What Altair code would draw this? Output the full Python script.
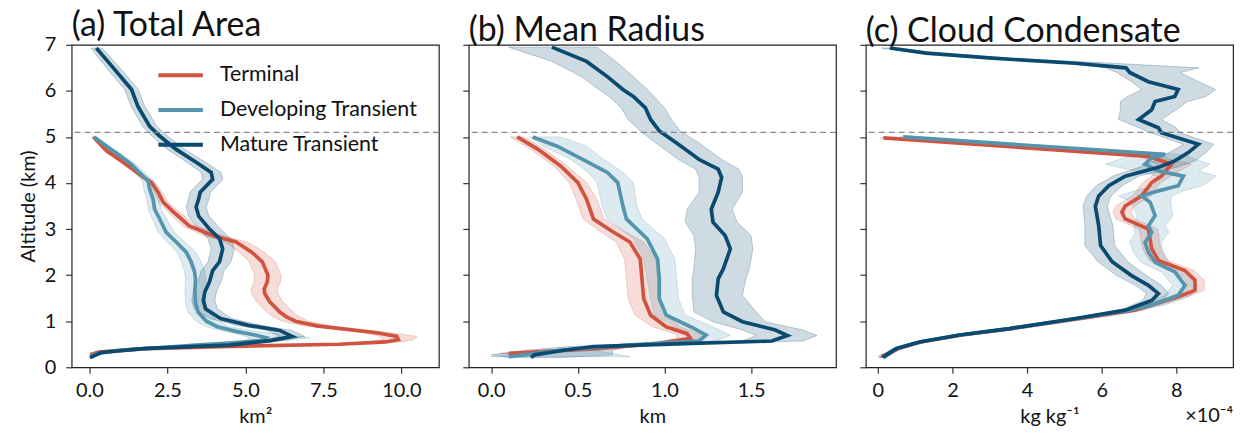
import altair as alt
import pandas as pd

FONT = "Lato"
SERIES = ["Terminal", "Developing Transient", "Mature Transient"]
COLORS = ["#d0533f", "#5494ad", "#0b4a6f"]
THRESHOLD = [5.1]

# ---------------- Panel (a) Total Area (km^2) ----------------
T_A_ALT = [0.27, 0.33, 0.40, 0.45, 0.50, 0.55, 0.60, 0.67, 0.75, 0.82, 0.90, 1.00, 1.10, 1.20, 1.42, 1.60, 1.70, 1.85, 2.00, 2.29, 2.50, 2.72, 2.86, 3.07, 3.37, 3.58, 3.80, 4.00, 4.19, 4.45, 4.70, 5.00]
T_A_MEAN = [0.02, 0.3, 1.6, 4.2, 8.0, 9.5, 9.9, 9.85, 9.2, 8.3, 7.3, 6.6, 6.3, 6.1, 5.78, 5.62, 5.6, 5.7, 5.72, 5.54, 5.2, 4.7, 3.95, 3.2, 2.7, 2.37, 2.2, 2.0, 1.61, 1.08, 0.55, 0.13]
T_A_LO = [0.0, 0.2, 1.3, 3.8, 7.5, 9.0, 9.4, 9.35, 8.75, 7.85, 6.85, 6.18, 5.88, 5.68, 5.36, 5.2, 5.18, 5.28, 5.3, 5.12, 4.8, 4.35, 3.65, 2.98, 2.52, 2.22, 2.07, 1.88, 1.51, 0.99, 0.48, 0.08]
T_A_HI = [0.07, 0.4, 1.9, 4.6, 8.5, 10.0, 10.4, 10.5, 9.65, 8.75, 7.75, 7.02, 6.72, 6.52, 6.2, 6.04, 6.02, 6.12, 6.14, 5.96, 5.6, 5.05, 4.25, 3.42, 2.88, 2.52, 2.33, 2.12, 1.71, 1.17, 0.62, 0.18]

D_A_ALT = [0.23, 0.30, 0.36, 0.42, 0.48, 0.53, 0.58, 0.64, 0.70, 0.78, 0.88, 1.00, 1.20, 1.40, 1.64, 1.92, 2.07, 2.29, 2.50, 2.72, 2.93, 3.22, 3.43, 3.65, 3.87, 4.05, 4.15, 4.40, 4.59, 4.80, 5.00]
D_A_MEAN = [0.03, 0.25, 0.9, 2.2, 3.4, 4.6, 5.5, 5.65, 5.3, 4.7, 4.1, 3.75, 3.48, 3.4, 3.38, 3.4, 3.37, 3.26, 3.1, 2.78, 2.46, 2.25, 2.09, 2.04, 1.93, 1.88, 1.72, 1.35, 0.98, 0.55, 0.15]
D_A_LO = [0.0, 0.15, 0.7, 1.9, 3.0, 4.1, 5.0, 5.15, 4.85, 4.3, 3.75, 3.42, 3.15, 3.08, 3.06, 3.08, 3.05, 2.95, 2.8, 2.5, 2.2, 2.02, 1.88, 1.84, 1.74, 1.7, 1.55, 1.2, 0.86, 0.46, 0.1]
D_A_HI = [0.1, 0.4, 1.2, 2.6, 3.9, 5.2, 6.3, 7.05, 6.4, 5.3, 4.5, 4.1, 3.82, 3.73, 3.7, 3.72, 3.7, 3.58, 3.4, 3.06, 2.72, 2.48, 2.3, 2.24, 2.12, 2.06, 1.89, 1.5, 1.1, 0.64, 0.2]

M_A_ALT = [0.21, 0.32, 0.41, 0.48, 0.58, 0.67, 0.80, 0.91, 1.06, 1.27, 1.45, 1.64, 1.86, 2.10, 2.29, 2.57, 2.79, 3.00, 3.28, 3.48, 3.65, 3.80, 4.08, 4.23, 4.45, 4.73, 5.02, 5.23, 5.67, 6.03, 6.39, 6.75, 6.93]
M_A_MEAN = [0.02, 0.38, 1.8, 4.5, 5.8, 6.5, 6.1, 5.1, 4.2, 3.72, 3.65, 3.7, 3.85, 3.95, 4.17, 4.27, 4.17, 3.85, 3.5, 3.42, 3.5, 3.55, 3.95, 3.9, 3.42, 2.78, 2.25, 1.93, 1.55, 1.35, 0.9, 0.45, 0.22]
M_A_LO = [0.0, 0.25, 1.5, 4.1, 5.4, 6.1, 5.7, 4.7, 3.85, 3.35, 3.28, 3.33, 3.48, 3.58, 3.8, 3.9, 3.8, 3.5, 3.17, 3.1, 3.17, 3.22, 3.62, 3.58, 3.12, 2.5, 2.0, 1.7, 1.33, 1.13, 0.68, 0.25, 0.05]
M_A_HI = [0.1, 0.55, 2.1, 4.9, 6.2, 6.9, 6.5, 5.5, 4.55, 4.1, 4.02, 4.07, 4.22, 4.32, 4.54, 4.64, 4.54, 4.2, 3.83, 3.74, 3.83, 3.88, 4.28, 4.22, 3.72, 3.06, 2.5, 2.16, 1.77, 1.57, 1.12, 0.65, 0.4]

# ---------------- Panel (b) Mean Radius (km) ----------------
T_B_ALT = [0.30, 0.40, 0.52, 0.63, 0.73, 0.88, 1.13, 1.49, 1.92, 2.35, 2.72, 2.97, 3.22, 3.65, 4.01, 4.37, 4.73, 5.00]
T_B_MEAN = [0.1, 0.59, 0.97, 1.15, 1.13, 1.01, 0.92, 0.88, 0.87, 0.86, 0.8, 0.69, 0.59, 0.55, 0.5, 0.4, 0.27, 0.15]
T_B_LO = [0.05, 0.52, 0.9, 1.08, 1.06, 0.93, 0.83, 0.79, 0.78, 0.77, 0.72, 0.62, 0.53, 0.49, 0.45, 0.36, 0.23, 0.11]
T_B_HI = [0.15, 0.66, 1.04, 1.22, 1.2, 1.09, 1.01, 0.97, 0.96, 0.95, 0.88, 0.76, 0.65, 0.61, 0.55, 0.44, 0.31, 0.19]

D_B_ALT = [0.23, 0.37, 0.48, 0.57, 0.70, 0.88, 1.13, 1.49, 1.92, 2.35, 2.79, 3.22, 3.50, 4.01, 4.23, 4.51, 4.80, 5.00]
D_B_MEAN = [0.1, 0.4, 0.78, 1.2, 1.24, 1.15, 1.01, 0.97, 0.97, 0.96, 0.9, 0.78, 0.76, 0.73, 0.67, 0.53, 0.38, 0.24]
D_B_LO = [0.0, 0.3, 0.7, 1.1, 1.15, 1.06, 0.94, 0.92, 0.9, 0.88, 0.82, 0.67, 0.64, 0.61, 0.56, 0.46, 0.3, 0.22]
D_B_HI = [0.8, 0.6, 0.9, 1.3, 1.38, 1.28, 1.12, 1.08, 1.07, 1.06, 1.0, 0.87, 0.84, 0.82, 0.76, 0.65, 0.55, 0.4]

M_B_ALT = [0.21, 0.27, 0.37, 0.45, 0.52, 0.57, 0.69, 0.81, 0.99, 1.20, 1.56, 1.92, 2.14, 2.57, 2.86, 3.15, 3.43, 3.80, 4.12, 4.30, 4.51, 4.87, 5.13, 5.38, 5.63, 5.88, 6.03, 6.31, 6.64, 6.95]
M_B_MEAN = [0.23, 0.25, 0.42, 0.59, 1.16, 1.62, 1.71, 1.64, 1.45, 1.34, 1.30, 1.31, 1.34, 1.38, 1.35, 1.28, 1.27, 1.31, 1.33, 1.31, 1.2, 1.07, 0.97, 0.92, 0.89, 0.82, 0.76, 0.67, 0.55, 0.35]
M_B_LO = [0.1, 0.0, 0.2, 0.45, 1.0, 1.45, 1.53, 1.45, 1.28, 1.17, 1.16, 1.16, 1.17, 1.18, 1.17, 1.12, 1.13, 1.2, 1.2, 1.18, 1.08, 0.95, 0.86, 0.79, 0.75, 0.68, 0.62, 0.52, 0.35, 0.1]
M_B_HI = [0.4, 0.7, 0.7, 0.8, 1.3, 1.8, 1.88, 1.8, 1.58, 1.53, 1.45, 1.47, 1.49, 1.51, 1.5, 1.42, 1.39, 1.45, 1.45, 1.43, 1.33, 1.2, 1.09, 1.04, 1.0, 0.94, 0.9, 0.82, 0.72, 0.61]

# ---------------- Panel (c) Cloud Condensate (x1e-4 kg/kg) ----------------
T_C_ALT = [0.24, 0.30, 0.41, 0.55, 0.70, 0.84, 1.06, 1.24, 1.35, 1.53, 1.67, 1.89, 2.10, 2.32, 2.57, 3.00, 3.22, 3.37, 3.50, 3.72, 4.01, 4.15, 4.41, 4.58, 4.98]
T_C_MEAN = [0.1, 0.3, 0.55, 1.15, 2.25, 3.6, 5.45, 6.9, 7.34, 8.05, 8.5, 8.5, 8.23, 7.52, 7.34, 7.25, 6.63, 6.54, 6.63, 7.07, 7.34, 7.6, 7.87, 7.25, 0.15]
T_C_LO = [0.0, 0.2, 0.45, 1.05, 2.15, 3.5, 5.3, 6.7, 7.1, 7.8, 8.25, 8.25, 7.98, 7.27, 7.1, 7.0, 6.38, 6.3, 6.38, 6.82, 7.1, 7.35, 7.5, 7.0, 0.05]
T_C_HI = [0.2, 0.4, 0.65, 1.25, 2.35, 3.7, 5.6, 7.1, 7.58, 8.3, 8.75, 8.75, 8.48, 7.77, 7.58, 7.5, 6.88, 6.78, 6.88, 7.32, 7.58, 7.85, 8.4, 7.5, 0.25]

D_C_ALT = [0.22, 0.30, 0.41, 0.55, 0.70, 0.84, 1.06, 1.24, 1.35, 1.56, 1.78, 2.07, 2.28, 2.50, 2.71, 2.93, 3.07, 3.29, 3.58, 3.72, 3.83, 3.94, 4.15, 4.26, 4.41, 4.55, 4.62, 5.00]
D_C_MEAN = [0.15, 0.3, 0.52, 1.12, 2.2, 3.55, 5.35, 6.75, 7.34, 8.05, 8.23, 7.96, 7.43, 7.25, 7.16, 7.34, 7.25, 7.43, 7.3, 7.07, 7.52, 8.05, 8.19, 7.52, 7.16, 7.34, 7.7, 0.68]
D_C_LO = [0.05, 0.2, 0.42, 1.02, 2.1, 3.45, 5.2, 6.55, 7.0, 7.7, 7.9, 7.6, 7.05, 6.85, 6.75, 6.9, 6.85, 6.95, 6.8, 6.45, 6.9, 7.4, 7.5, 6.9, 6.1, 6.6, 7.3, 0.6]
D_C_HI = [0.25, 0.4, 0.62, 1.22, 2.3, 3.65, 5.5, 6.95, 7.7, 8.4, 8.55, 8.3, 7.8, 7.65, 7.6, 7.8, 7.7, 7.9, 7.85, 7.87, 8.2, 8.7, 9.07, 8.6, 8.9, 8.4, 8.1, 0.76]

M_C_ALT = [0.21, 0.27, 0.41, 0.55, 0.70, 0.84, 1.06, 1.24, 1.45, 1.60, 1.78, 1.99, 2.29, 2.64, 3.07, 3.50, 3.72, 3.94, 4.15, 4.34, 4.48, 4.66, 4.84, 5.09, 5.20, 5.38, 5.59, 5.77, 5.88, 6.03, 6.20, 6.40, 6.50, 6.60, 6.71, 6.82, 6.93]
M_C_MEAN = [0.14, 0.23, 0.5, 1.12, 2.19, 3.52, 5.3, 6.63, 7.34, 7.52, 7.25, 6.8, 6.28, 5.97, 5.92, 5.83, 5.92, 6.19, 6.63, 7.52, 7.96, 8.32, 8.59, 7.6, 7.52, 6.99, 7.34, 7.43, 7.96, 8.05, 7.25, 6.75, 6.65, 5.3, 3.07, 1.3, 0.32]
M_C_LO = [0.04, 0.13, 0.4, 1.02, 2.09, 3.42, 5.2, 6.5, 7.1, 7.2, 6.9, 6.4, 5.9, 5.55, 5.55, 5.5, 5.6, 5.85, 6.3, 7.0, 7.4, 7.8, 8.2, 7.3, 7.0, 6.45, 6.5, 6.5, 6.7, 7.07, 6.8, 6.4, 6.1, 5.0, 2.8, 1.1, 0.1]
M_C_HI = [0.24, 0.33, 0.6, 1.22, 2.29, 3.62, 5.4, 6.8, 7.6, 7.8, 7.6, 7.2, 6.7, 6.35, 6.3, 6.15, 6.25, 6.55, 7.0, 8.0, 8.5, 8.8, 9.0, 8.1, 8.0, 7.6, 8.0, 8.3, 8.8, 9.05, 8.6, 8.1, 8.6, 6.3, 3.5, 1.6, 0.5]


def frame(rows):
    parts = []
    for name, a, m, lo, hi in rows:
        parts.append(pd.DataFrame({"series": name, "alt": a, "mean": m, "lo": lo, "hi": hi}))
    return pd.concat(parts, ignore_index=True)


DF_A = frame([(SERIES[0], T_A_ALT, T_A_MEAN, T_A_LO, T_A_HI),
              (SERIES[1], D_A_ALT, D_A_MEAN, D_A_LO, D_A_HI),
              (SERIES[2], M_A_ALT, M_A_MEAN, M_A_LO, M_A_HI)])
DF_B = frame([(SERIES[0], T_B_ALT, T_B_MEAN, T_B_LO, T_B_HI),
              (SERIES[1], D_B_ALT, D_B_MEAN, D_B_LO, D_B_HI),
              (SERIES[2], M_B_ALT, M_B_MEAN, M_B_LO, M_B_HI)])
DF_C = frame([(SERIES[0], T_C_ALT, T_C_MEAN, T_C_LO, T_C_HI),
              (SERIES[1], D_C_ALT, D_C_MEAN, D_C_LO, D_C_HI),
              (SERIES[2], M_C_ALT, M_C_MEAN, M_C_LO, M_C_HI)])

W, H = 369, 324
TXT = "#111111"


def panel(df, title, xdomain, xticks, xfmt, xtitle, first, extra=None):
    xscale = alt.Scale(domain=xdomain, nice=False, zero=False)
    yscale = alt.Scale(domain=[0, 7], nice=False, zero=False)
    xaxis = alt.Axis(values=xticks, format=xfmt, title=xtitle)
    yaxis = alt.Axis(values=list(range(8)), labels=first, labelPadding=10,
                     title="Altitude (km)" if first else None)
    cscale = alt.Scale(domain=SERIES, range=COLORS)
    base = alt.Chart(df)
    band = base.mark_area(orient="horizontal", fillOpacity=0.2, strokeOpacity=0.25,
                          strokeWidth=1).encode(
        x=alt.X("lo:Q", scale=xscale, axis=xaxis),
        x2="hi:Q",
        y=alt.Y("alt:Q", scale=yscale, axis=yaxis),
        fill=alt.Fill("series:N", scale=cscale, legend=None),
        stroke=alt.Stroke("series:N", scale=cscale, legend=None),
        detail="series:N",
    )
    if first:
        legend = alt.Legend(title=None, orient="none", legendX=85, legendY=6,
                            symbolType="stroke", symbolStrokeWidth=4, symbolSize=2000,
                            labelFontSize=21.5, labelFont=FONT, labelColor=TXT,
                            labelOffset=15, rowPadding=-1, padding=0, labelLimit=0)
    else:
        legend = None
    line = base.mark_line(strokeWidth=3.7).encode(
        x=alt.X("mean:Q", scale=xscale),
        y=alt.Y("alt:Q", scale=yscale),
        color=alt.Color("series:N", scale=cscale, legend=legend, sort=SERIES),
        order=alt.Order("alt:Q"),
    )
    rule = alt.Chart(pd.DataFrame({"y": THRESHOLD})).mark_rule(
        color="#888888", strokeDash=[6, 4], strokeWidth=1.3).encode(y=alt.Y("y:Q", scale=yscale))
    layers = [band, line, rule]
    if extra is not None:
        layers.append(extra)
    return alt.layer(*layers).properties(
        width=W, height=H,
        title=alt.TitleParams(title, anchor="start", fontSize=34, font=FONT,
                              fontWeight="normal", color=TXT, offset=-8, frame="group"),
    )


OFFSET = pd.DataFrame({"t": ["×10⁻⁴"]})
offset_text = alt.Chart(OFFSET).mark_text(
    align="right", baseline="alphabetic", fontSize=20, font=FONT, color=TXT
).encode(text="t:N", x=alt.value(W), y=alt.value(H + 55))

pa = panel(DF_A, "(a) Total Area", [-0.57, 11.2], [0, 2.5, 5, 7.5, 10], ".1f", "km²", True)
pb = panel(DF_B, "(b) Mean Radius", [-0.13, 1.99], [0, 0.5, 1.0, 1.5], ".1f", "km", False)
pc = panel(DF_C, "(c) Cloud Condensate", [-0.32, 9.52], [0, 2, 4, 6, 8], "d", "kg kg⁻¹", False,
           extra=offset_text)

chart = alt.hconcat(pa, pb, pc, spacing=30, bounds="flush").resolve_scale(
    color="independent"
).properties(
    padding={"left": 17, "top": 7, "right": 12, "bottom": 5},
    background="white",
).configure_view(
    stroke="#222222", strokeWidth=1.2
).configure_axis(
    labelFont=FONT, titleFont=FONT, labelFontSize=20, titleFontSize=20,
    labelColor=TXT, titleColor=TXT, titleFontWeight="normal",
    tickColor="#333333", tickSize=6, tickWidth=1.2, domain=False, grid=False,
    labelPadding=7, titlePadding=6,
)

chart.save("out.html", embed_options={"renderer": "svg", "actions": False})
